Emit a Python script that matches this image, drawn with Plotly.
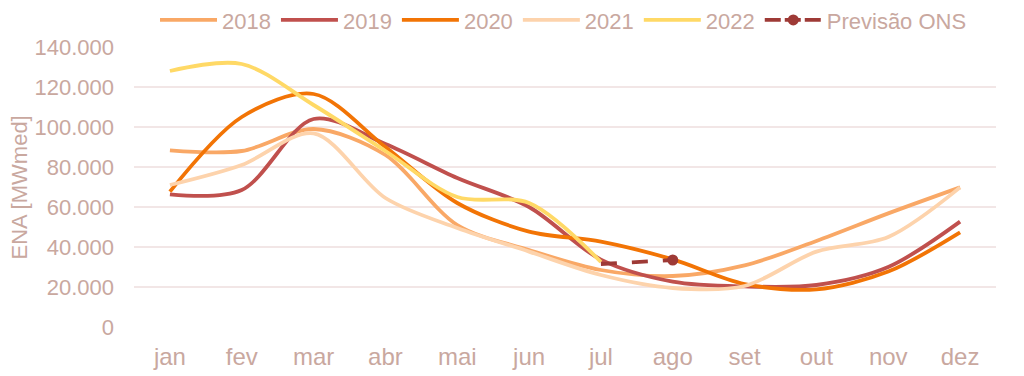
import plotly.graph_objects as go

months = ["jan", "fev", "mar", "abr", "mai", "jun", "jul", "ago", "set", "out", "nov", "dez"]
ena_2018 = [88300, 88000, 99000, 86000, 51000, 38500, 28500, 25500, 30800, 43000, 56800, 69800]
ena_2019 = [66300, 68500, 104000, 91500, 74500, 60000, 33700, 22700, 20300, 21000, 30000, 52700]
ena_2020 = [67700, 105000, 116500, 90000, 62000, 47700, 42700, 33800, 21500, 18800, 27700, 47300]
ena_2021 = [71000, 81000, 96800, 64500, 49500, 37700, 26000, 19500, 20500, 37700, 45000, 69800]
ena_2022 = [128000, 131500, 111000, 88000, 65000, 62000, 32500]
prev_months = ["jul", "ago"]
prev_ons = [31500, 33500]
y_title = "ENA [MWmed]"

series = [
    ("2018", ena_2018, "#F9A866"),
    ("2019", ena_2019, "#C0504D"),
    ("2020", ena_2020, "#F27405"),
    ("2021", ena_2021, "#FDD3AC"),
    ("2022", ena_2022, "#FFD966"),
]

txt = "#C9A89F"
prev_color = "#9E3A36"
font_family = "Liberation Sans, Arial, sans-serif"

fig = go.Figure()
for name, vals, color in series:
    fig.add_trace(go.Scatter(
        x=months[:len(vals)], y=vals, name=name, mode="lines",
        line=dict(color=color, width=3.8, shape="spline", smoothing=0.9),
    ))

fig.add_trace(go.Scatter(
    x=prev_months, y=prev_ons, name="Previsão ONS", mode="lines",
    line=dict(color=prev_color, width=3.8, dash="16px,15px"),
    showlegend=False, legendgroup="prev",
))
fig.add_trace(go.Scatter(
    x=prev_months[-1:], y=prev_ons[-1:], name="Previsão ONS", mode="lines+markers",
    line=dict(color=prev_color, width=3.8, dash="16px,4px"),
    marker=dict(color=prev_color, size=11),
    legendgroup="prev",
))

# page body has an 8px default margin; figure is sized to fit the 1024x376 window
fig.update_layout(
    width=1016, height=368,
    margin=dict(l=126, r=28, t=39, b=49, autoexpand=False),
    paper_bgcolor="white", plot_bgcolor="white",
    separators=",.",
    font=dict(family=font_family, size=22, color=txt),
    showlegend=True,
    legend=dict(
        orientation="h", x=147 / 1016, xanchor="left", xref="container",
        y=1.171, yanchor="top", yref="paper",
        font=dict(size=22, color=txt),
        itemwidth=57, entrywidth=0, traceorder="normal",
        bgcolor="rgba(0,0,0,0)",
    ),
    xaxis=dict(
        categoryorder="array", categoryarray=months, range=[-0.5, 11.5],
        showgrid=False, zeroline=False, showline=False,
        tickfont=dict(size=24, color=txt), ticklabelstandoff=13,
    ),
    yaxis=dict(
        range=[0, 140000], tickvals=[0, 20000, 40000, 60000, 80000, 100000, 120000, 140000],
        tickformat=",.0f",
        showgrid=True, gridcolor="#F2E6E6", gridwidth=1.5,
        zeroline=False, showline=False,
        tickfont=dict(size=22, color=txt), ticklabelstandoff=19,
    ),
    annotations=[dict(
        text=y_title, textangle=-90, showarrow=False,
        xref="paper", yref="paper", x=-0.1323, y=0.498,
        xanchor="center", yanchor="middle",
        font=dict(size=22, color=txt),
    )],
)

fig.write_html("out.html")
